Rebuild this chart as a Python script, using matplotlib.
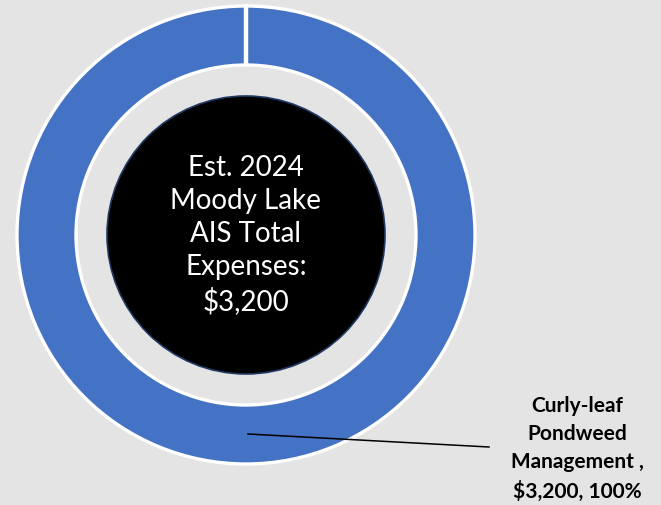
import matplotlib
matplotlib.use('Agg')
import matplotlib.pyplot as plt
from matplotlib.patches import Circle

# data
categories = ['Curly-leaf\nPondweed\nManagement ,']
amounts = [3200]
total = sum(amounts)
center_text = 'Est. 2024\nMoody Lake\nAIS Total\nExpenses:\n$' + format(total, ',')

plt.rcParams['font.family'] = ['Lato', 'DejaVu Sans']

fig = plt.figure(figsize=(6.61, 5.05), dpi=100)
fig.patch.set_facecolor('#e4e4e4')
ax = fig.add_axes([0, 0, 1, 1])
ax.set_facecolor('#e4e4e4')

cx, cy = 246, 235
r_out, r_in = 229, 170

wedges, _ = ax.pie(amounts, radius=r_out, center=(cx, cy), startangle=90,
                   colors=['#4472c4'], counterclock=False,
                   wedgeprops=dict(width=r_out - r_in, edgecolor='white', linewidth=2.4))
# gap at the slice start
ax.plot([cx, cx], [cy - r_in, cy - r_out - 2], color='white', lw=3.2, solid_capstyle='butt')

ax.add_patch(Circle((cx, cy), 139, facecolor='black', edgecolor='#1f3864', lw=1.2, zorder=3))
ax.text(cx, cy, center_text, ha='center', va='center', color='white',
        fontsize=20, linespacing=1.33, zorder=4)

# label with leader line
for name, val in zip(categories, amounts):
    pct = val / total * 100
    ax.plot([248, 489], [434, 447], color='black', lw=1.1, zorder=2)
    ax.text(577, 449, '%s\n$%s, %d%%' % (name, format(val, ','), pct), ha='center', va='center',
            fontsize=15, fontweight='bold', linespacing=1.52, color='black')

ax.set_xlim(0, 661)
ax.set_ylim(505, 0)
ax.set_aspect('equal')
ax.axis('off')

fig.savefig('out.png', dpi=100, facecolor=fig.get_facecolor())
